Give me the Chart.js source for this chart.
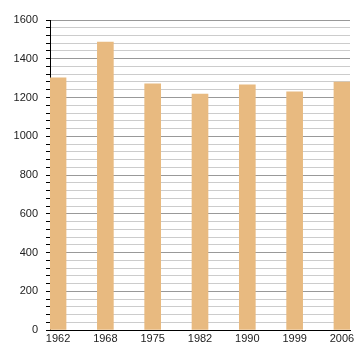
<!DOCTYPE html>
<html><head><meta charset="utf-8">
<script src="https://cdn.jsdelivr.net/npm/chart.js@4"></script>
<style>html,body{margin:0;padding:0;background:#fff}#wrap{width:360px;height:360px}</style>
</head><body><div id="wrap"><canvas id="c" width="360" height="360"></canvas></div>
<script>
const categories = ["1962","1968","1975","1982","1990","1999","2006"];
const values = [1302, 1486, 1270, 1218, 1265, 1229, 1280];
const yTickLabels = [0, 200, 400, 600, 800, 1000, 1200, 1400, 1600];

const points = categories.map((c, i) => ({x: i, y: values[i]}));
new Chart(document.getElementById('c'), {
  type: 'bar',
  data: { datasets: [{ data: points, backgroundColor: '#e8ba80', borderWidth: 0, barThickness: 16 }] },
  options: {
    responsive: false, animation: false,
    layout: { padding: { top: 20, right: 10, left: 0, bottom: 0 } },
    plugins: { legend: { display: false }, tooltip: { enabled: false } },
    scales: {
      x: {
        type: 'linear', min: -0.17, max: 6.17, offset: false,
        afterBuildTicks: s => { s.ticks = categories.map((c, i) => ({value: i})); },
        afterFit: s => { s.height = 30; },
        grid: { display: false, drawTicks: false },
        border: { display: true, color: '#000', width: 1 },
        ticks: { callback: v => categories[v] ?? '', color: '#222', font: { family: 'Liberation Sans', size: 11 }, padding: 2, maxRotation: 0, autoSkip: false }
      },
      y: {
        min: 0, max: 1600,
        afterBuildTicks: s => { const t = []; for (let v = 0; v <= 1600; v += 40) t.push({value: v}); s.ticks = t; },
        afterFit: s => { s.width = 50; },
        grid: {
          color: ctx => (ctx.tick && ctx.tick.value % 200 === 0) ? '#999' : '#ccc',
          tickColor: '#000', tickLength: 4, drawTicks: true
        },
        border: { display: true, color: '#000', width: 1 },
        ticks: {
          callback: v => yTickLabels.includes(v) ? String(v) : '',
          color: '#222', font: { family: 'Liberation Sans', size: 11 }, padding: 8, autoSkip: false
        }
      }
    }
  }
});
</script></body></html>
